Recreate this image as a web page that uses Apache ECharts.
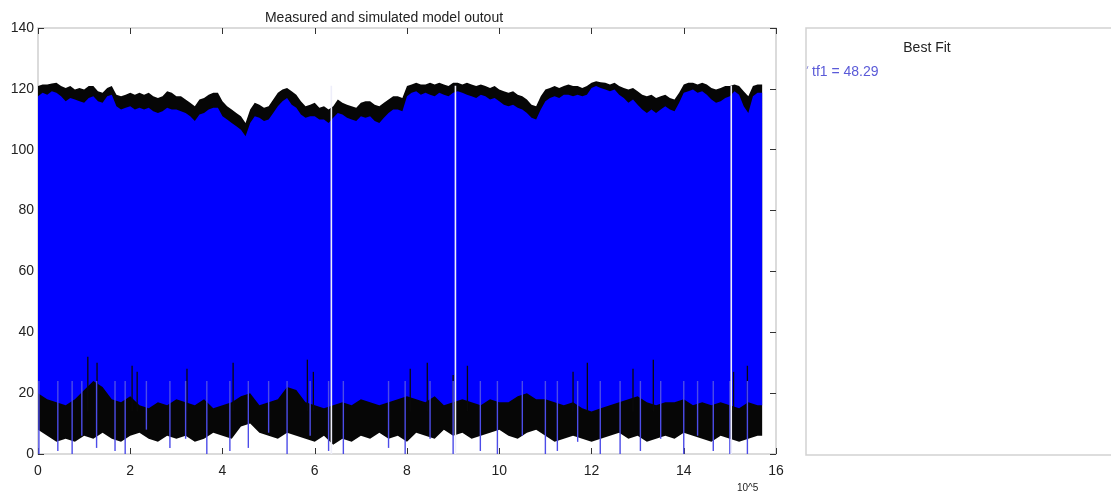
<!DOCTYPE html>
<html><head><meta charset="utf-8">
<script src="https://cdn.jsdelivr.net/npm/echarts@6/dist/echarts.min.js"></script>
<style>html,body{margin:0;padding:0;background:#fff}#c{width:1111px;height:495px}</style>
</head><body><div id="c"></div><script>
// x positions of the upper envelopes (units of 10^5 samples)
const topX = [0,0.1,0.2,0.3,0.4,0.5,0.6,0.7,0.8,0.9,1.0,1.1,1.2,1.3,1.4,1.5,1.6,1.7,1.8,1.9,
  2.0,2.1,2.2,2.3,2.4,2.5,2.6,2.7,2.8,2.9,3.0,3.1,3.2,3.3,3.4,3.5,3.6,3.7,3.8,3.9,
  4.0,4.1,4.2,4.3,4.4,4.5,4.6,4.7,4.8,4.9,5.0,5.1,5.2,5.3,5.4,5.5,5.6,5.7,5.8,5.9,
  6.0,6.1,6.2,6.3,6.4,6.5,6.6,6.7,6.8,6.9,7.0,7.1,7.2,7.3,7.4,7.5,7.6,7.7,7.8,7.9,
  8.0,8.1,8.2,8.3,8.4,8.5,8.6,8.7,8.8,8.9,9.0,9.1,9.2,9.3,9.4,9.5,9.6,9.7,9.8,9.9,
  10.0,10.1,10.2,10.3,10.4,10.5,10.6,10.7,10.8,10.9,11.0,11.1,11.2,11.3,11.4,11.5,11.6,11.7,11.8,11.9,
  12.0,12.1,12.2,12.3,12.4,12.5,12.6,12.7,12.8,12.9,13.0,13.1,13.2,13.3,13.4,13.5,13.6,13.7,13.8,13.9,
  14.0,14.1,14.2,14.3,14.4,14.5,14.6,14.7,14.8,14.9,15.0,15.1,15.2,15.3,15.4,15.5,15.6,15.7];
// measured output, upper envelope (black)
const measuredHi = [120.9,121.4,121.4,121.8,122,120.9,120.3,120.9,119.8,120.3,
  119.8,120.9,120.9,119.2,118.7,120.3,120.9,118.1,117.6,118.1,
  118.7,118.1,118.7,118.1,118.7,117.6,117,117.6,119.2,118.7,
  117.6,117.6,116.5,115.4,114.3,116.5,117,118.1,118.7,118.7,
  115.9,114.3,113.2,112.1,111,108.8,113.2,115.4,114.8,113.8,
  114.3,116.5,118.7,119.8,120.3,119.2,118.1,115.9,114.3,114.8,
  115.4,113.8,114.3,113.2,114.3,116.5,115.4,114.8,114.3,113.8,
  115.4,115.9,115.9,114.8,114.3,115.4,116.5,117.6,117.6,117,
  120.9,121.4,122,121.4,121.4,122,121.4,122,121.4,120.9,
  122,122,121.4,122,121.4,120.9,121.4,120.9,120.3,120.9,
  119.8,119.2,118.7,119.2,118.1,117.6,116.5,114.8,114.3,117.6,
  119.8,120.3,120.9,120.3,120.9,121.4,120.9,120.9,120.3,120.9,
  122,122.5,122.2,122,121.4,122,120.9,120.3,119.8,120.3,
  119.2,118.1,117.6,118.1,117,117.6,118.1,117,116.5,118.7,
  121.4,122,122,121.4,122,121.4,120.3,119.8,120.3,120.9,
  120.9,121.4,120.9,119.2,117.6,120.9,121.4,121.4];
// simulated output, upper envelope (blue)
const simulatedHi = [117.6,118.7,118.1,119.2,118.7,117.6,115.9,117,116.5,115.9,
  115.4,117,117.6,115.9,115.4,117.6,118.1,114.3,113.2,113.8,
  114.3,113.2,113.8,113.2,113.8,112.6,112.1,112.6,113.8,113.2,
  113.2,112.6,112.1,111,109.4,111.6,112.1,113.2,113.8,113.8,
  111,109.9,108.8,107.7,106.6,104.4,108.8,111,110.5,109.4,
  109.9,112.1,114.3,115.9,117,114.8,113.8,111.6,110.5,111,
  111,109.9,109.9,108.8,110.5,112.1,111.6,110.5,109.9,109.4,
  111,110.5,111,109.4,108.8,110.5,112.1,113.2,113.2,112.6,
  117.6,118.7,119.2,118.1,118.7,118.1,117.6,118.7,118.1,117.6,
  118.7,119.2,118.7,118.1,117.6,117,118.1,117.6,116.5,117,
  115.9,114.8,114.3,114.8,113.8,113.2,112.1,110.5,109.9,113.2,
  115.9,117,117.6,117,118.1,118.1,117.6,118.1,117.6,118.1,
  120.3,120.9,120.3,119.8,119.2,119.8,118.1,117,115.4,116.5,
  114.8,113.2,112.1,113.2,112.1,113.2,114.3,113.2,112.6,115.4,
  118.7,119.2,119.8,118.7,119.2,118.1,116.5,115.4,115.9,117,
  117.6,119.2,118.1,114.3,112.1,117.6,118.7,118.7];
// x positions of the lower envelopes
const botX = [0,0.2,0.4,0.6,0.8,1.0,1.2,1.4,1.6,1.8,2.0,2.2,2.4,2.6,2.8,3.0,3.2,3.4,3.6,3.8,
  4.0,4.2,4.4,4.6,4.8,5.0,5.2,5.4,5.6,5.8,6.0,6.2,6.4,6.6,6.8,7.0,7.2,7.4,7.6,7.8,
  8.0,8.2,8.4,8.6,8.8,9.0,9.2,9.4,9.6,9.8,10.0,10.2,10.4,10.6,10.8,11.0,11.2,11.4,11.6,11.8,
  12.0,12.2,12.4,12.6,12.8,13.0,13.2,13.4,13.6,13.8,14.0,14.2,14.4,14.6,14.8,15.0,15.2,15.4,15.6,15.7];
const measuredLo = [8,6,4,5,4,6,5,7,5,4,6,7,5,4,6,5,6,4,5,7,
  6,5,9,10,7,6,5,7,6,5,4,6,3,5,4,6,5,7,5,6,
  4,7,6,5,8,6,7,5,6,7,8,6,5,7,8,6,4,5,6,5,
  4,5,6,7,5,6,4,5,6,5,7,6,5,4,6,5,4,5,6,6];
const simulatedLo = [20,18,17,16,18,21,24,22,18,17,19,16,15,17,16,18,17,16,18,15,
  16,17,19,20,16,17,18,22,21,17,16,15,16,17,16,18,17,16,17,18,
  19,18,17,19,16,17,18,17,16,18,17,17,19,20,18,18,17,16,17,15,
  14,15,16,17,18,19,17,16,17,17,18,16,17,16,17,16,15,17,16,16];
// narrow downward dips of the simulated output: [x, lowest value]
const simulatedDips = [[0.02,0],[0.43,1],[0.74,0],[0.95,6],[1.27,2],[1.67,1],[1.89,0],[2.35,8],[2.86,2],[3.2,5],
  [3.66,0],[4.16,1],[4.56,2],[5.0,7],[5.4,0],[5.9,6],[6.3,1],[6.62,0],[7.6,2],[7.96,0],[8.5,5],
  [9.0,0],[9.59,1],[9.96,0],[10.5,6],[11.0,0],[11.26,1],[11.7,4],[12.19,0],[12.62,0],[13.06,1],
  [13.5,5],[14.0,0],[14.3,6],[14.64,1],[15.0,0],[15.38,0]];
// narrow upward rises of the measured output into the blue band: [x, highest value]
const measuredRises = [[1.08,32],[1.28,30],[2.04,29],[2.15,27],[3.23,28],[4.23,30],[5.84,31],[5.97,27],
  [8.07,28],[8.44,30],[9.0,26],[9.31,29],[11.6,27],[11.91,30],[12.9,28],[13.34,31],[15.08,27],[15.38,29]];
// white gaps in the record
const gapX = [6.36, 9.05, 15.03];
const xTicks = [0,2,4,6,8,10,12,14,16];
const yTicks = [0,20,40,60,80,100,120,140];
const fitLabel = 'tf1 = 48.29';

const FONT = 'Liberation Sans, Arial, sans-serif';
function band(xHi, hi, xLo, lo, color, z) {
  return {type:'custom', coordinateSystem:'cartesian2d', data:[[0,0]], z:z, silent:true,
    renderItem(params, api){
      const pts=[];
      for(let i=0;i<xHi.length;i++) pts.push(api.coord([xHi[i], hi[i]]));
      for(let i=xLo.length-1;i>=0;i--) pts.push(api.coord([xLo[i], lo[i]]));
      return {type:'polygon', shape:{points:pts}, style:{fill:color}};
    }};
}
function spikes(data, base, color, width, z) {
  return {type:'custom', coordinateSystem:'cartesian2d', data:data, z:z, silent:true,
    renderItem(params, api){
      const a=api.coord([api.value(0), api.value(1)]);
      const b=api.coord([api.value(0), base]);
      return {type:'line', shape:{x1:a[0],y1:a[1],x2:b[0],y2:b[1]}, style:{stroke:color, lineWidth:width}};
    }};
}
const chart = echarts.init(document.getElementById('c'), null, {renderer:'canvas'});
function axis(extra) {
  return Object.assign({type:'value', splitLine:{show:false}, axisLine:{show:false, onZero:false}, z:1,
    axisTick:{show:true, inside:true, length:6, lineStyle:{color:'#333', width:1}}}, extra);
}
chart.setOption({
  animation:false,
  grid:{left:38, right:335, top:28, bottom:41, show:true, borderColor:'#cfcfcf', borderWidth:1.5},
  xAxis:[
    axis({min:0, max:16, interval:2, position:'bottom',
      axisLabel:{color:'#222', fontSize:14, fontFamily:FONT, margin:10,
        formatter:v=> xTicks.includes(v)? String(v):''}}),
    axis({min:0, max:16, interval:2, position:'top', axisLabel:{show:false}})
  ],
  yAxis:[
    axis({min:0, max:140, interval:20, position:'left',
      axisLabel:{color:'#222', fontSize:14, fontFamily:FONT, margin:4, padding:[5,0,0,0],
        formatter:v=> yTicks.includes(v)? String(v):''}}),
    axis({min:0, max:140, interval:20, position:'right', axisLabel:{show:false}})
  ],
  series:[
    band(topX, measuredHi, botX, measuredLo, '#060606', 2),
    band(topX, simulatedHi, botX, simulatedLo, '#0000ff', 3),
    spikes(measuredRises, 14, '#0a0a0a', 1.3, 4),
    spikes(simulatedDips, 24, '#4c4ce8', 1.4, 5),
    spikes(gapX.map(x=>[x,121]), 0, '#eeeefa', 1.6, 6)
  ],
  graphic:[
    {type:'text', style:{text:'Measured and simulated model outout', x:384, y:11, textAlign:'center', fill:'#222', font:'14px '+FONT}},
    {type:'text', style:{text:'10^5', x:737, y:483, fill:'#222', font:'10px '+FONT}},
    {type:'rect', shape:{x:806, y:28, width:330, height:427}, style:{fill:'#fff', stroke:'#d2d2d2', lineWidth:1.5}},
    {type:'text', style:{text:'Best Fit', x:927, y:41, textAlign:'center', fill:'#222', font:'14px '+FONT}},
    {type:'text', style:{text:fitLabel, x:812, y:65, fill:'#5a5ad8', font:'14px '+FONT}},
    {type:'line', shape:{x1:808, y1:66, x2:807, y2:69}, style:{stroke:'#9a9ae0', lineWidth:1}}
  ]
});
</script></body></html>
